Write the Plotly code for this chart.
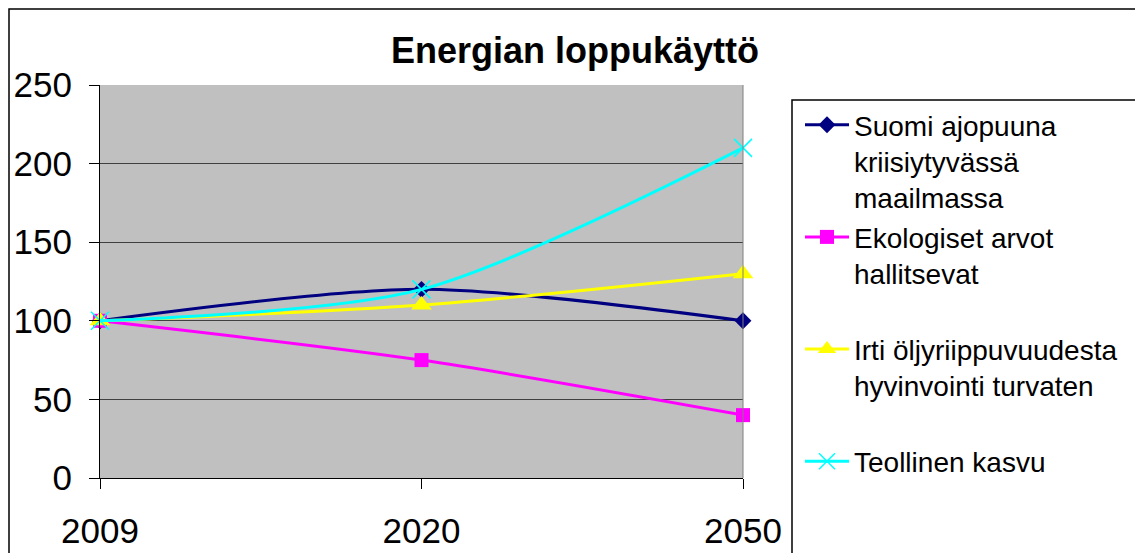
import plotly.graph_objects as go

years = ["2009", "2020", "2050"]
suomi = [100, 120, 100]
ekologiset = [100, 75, 40]
irti = [100, 110, 130]
teollinen = [100, 120, 210]

names = [
    "Suomi ajopuuna<br>kriisiytyvässä<br>maailmassa",
    "Ekologiset arvot<br>hallitsevat<br> ",
    "Irti öljyriippuvuudesta<br>hyvinvointi turvaten<br> ",
    "Teollinen kasvu",
]

# page body has an 8px offset; work in screen coordinates of the reference
OFF = 8
W, H = 1143, 553
PL, PR, PT, PB = 100, 743, 85, 478  # plot area in screen px
L, T = PL - OFF, PT - OFF
R, B = W - (PR - OFF), H - (PB - OFF)
pw, ph = PR - PL, PB - PT

def px2x(px):
    return (px - PL) / pw

def py2y(py):
    return (PB - py) / ph

fig = go.Figure()
series = [
    (suomi, "#000080", "diamond", 13, None),
    (ekologiset, "#FF00FF", "square", 14, None),
    (irti, "#FFFF00", "triangle-up", 18, None),
    (teollinen, "#00FFFF", "x-thin-open", 18, 1.5),
]
for (vals, col, sym, sz, lw), nm in zip(series, names):
    marker = dict(symbol=sym, size=sz, color=col)
    if lw:
        marker["line"] = dict(color=col, width=lw)
    else:
        marker["line"] = dict(width=0)
    fig.add_trace(go.Scatter(
        x=years, y=vals, name=nm, mode="lines+markers",
        line=dict(color=col, width=3, shape="spline", smoothing=0.8),
        marker=marker, cliponaxis=False,
    ))

fig.update_layout(
    width=W, height=H,
    margin=dict(l=L, r=R, t=T, b=B, autoexpand=False),
    paper_bgcolor="white",
    plot_bgcolor="#C0C0C0",
    font=dict(family="Liberation Sans, Arial, sans-serif", color="black"),
    title=dict(text="<b>Energian loppukäyttö</b>",
               x=(575 - OFF) / W, xanchor="center",
               y=1 - (50 - OFF) / H, yanchor="middle",
               font=dict(size=36, color="black")),
    showlegend=True,
    legend=dict(
        x=px2x(800), y=py2y(100), xanchor="left", yanchor="top",
        xref="paper", yref="paper",
        font=dict(size=28, color="black"),
        bgcolor="rgba(0,0,0,0)", borderwidth=0,
        itemwidth=44, valign="top", tracegroupgap=0,
    ),
    xaxis=dict(
        type="category", range=[0, 2], showgrid=False,
        showline=True, linecolor="black", linewidth=1,
        ticks="outside", ticklen=10, tickcolor="black",
        tickfont=dict(size=35), ticklabelstandoff=12,
        zeroline=False, fixedrange=True, automargin=False,
    ),
    yaxis=dict(
        range=[0, 250], tickvals=[0, 50, 100, 150, 200, 250],
        showgrid=True, gridcolor="#404040", gridwidth=1,
        showline=True, linecolor="black", linewidth=1,
        ticks="outside", ticklen=10, tickcolor="black",
        tickfont=dict(size=35), ticklabelstandoff=10,
        zeroline=False, fixedrange=True, automargin=False,
    ),
    shapes=[
        # outer chart border
        dict(type="rect", xref="paper", yref="paper",
             x0=px2x(9), x1=px2x(1170), y0=py2y(580), y1=py2y(9),
             line=dict(color="black", width=1.5), fillcolor="rgba(0,0,0,0)", layer="below"),
        # legend box
        dict(type="rect", xref="paper", yref="paper",
             x0=px2x(792), x1=px2x(1170), y0=py2y(580), y1=py2y(100),
             line=dict(color="black", width=1.5), fillcolor="rgba(0,0,0,0)"),
        # plot area right border
        dict(type="line", xref="paper", yref="paper", x0=1, x1=1, y0=0, y1=1,
             line=dict(color="#808080", width=1)),
    ],
)

fig.write_html("out.html")
